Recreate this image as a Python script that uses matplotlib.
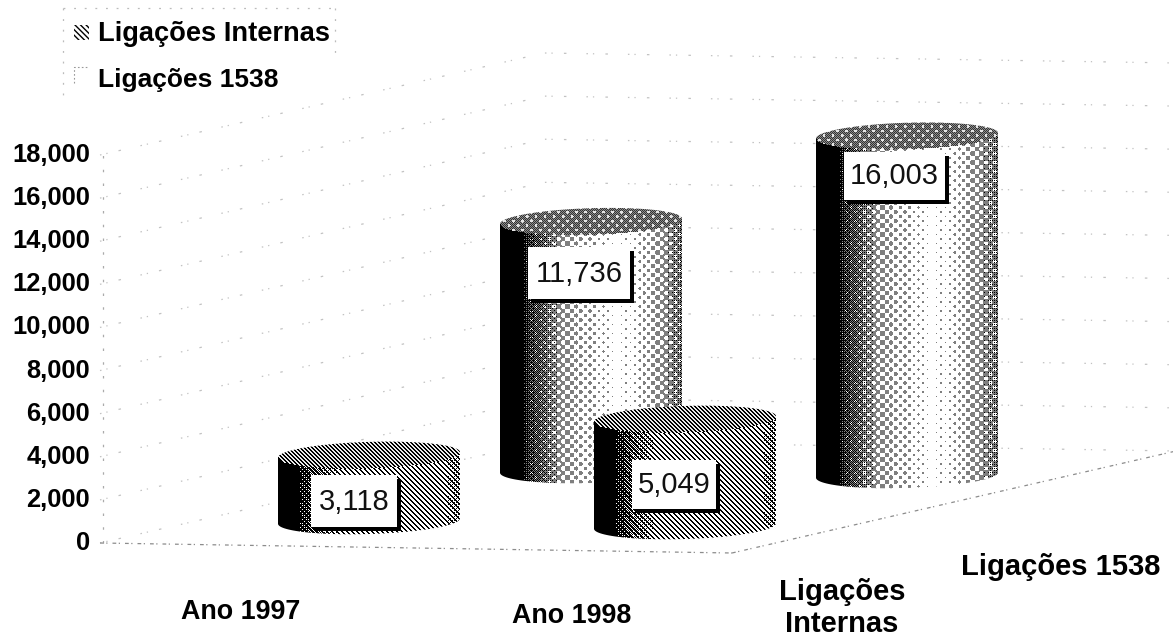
import numpy as np
import matplotlib
matplotlib.use("Agg")
import matplotlib.pyplot as plt
from matplotlib.path import Path
from matplotlib.patches import PathPatch, Rectangle

categories = ["Ano 1997", "Ano 1998"]
series_names = ["Ligações Internas", "Ligações 1538"]
internas = [3118, 5049]
l1538 = [11736, 16003]
tick_values = [0, 2000, 4000, 6000, 8000, 10000, 12000, 14000, 16000, 18000]

plt.rcParams["font.family"] = ["Liberation Sans", "DejaVu Sans"]
plt.rcParams["hatch.linewidth"] = 1.0
W, H = 1173, 637
fig = plt.figure(figsize=(W / 100, H / 100), dpi=100, facecolor="white")
ax = fig.add_axes([0, 0, 1, 1])
ax.axis("off")

# projection of the pseudo-3D chart
ORIGIN = np.array([100.0, 543.0])
CAT = np.array([316.0, 5.0])
DEPTH = np.array([222.0, -51.0])
BASE = np.array([369.0, 521.0])
WALL_SCALE = 388 / 18000
BAR_SCALE = 0.0212
RX, RY = 91, 13
TILT = -0.03
BAYER = np.array([[0, 8, 2, 10], [12, 4, 14, 6], [3, 11, 1, 9], [15, 7, 13, 5]]) / 16.0


def proj(cat, ser):
    return BASE + CAT * cat + DEPTH * ser


# walls and floor
front_r = ORIGIN + 2 * CAT
back_l = ORIGIN + 2 * DEPTH
back_r = back_l + 2 * CAT
grid = dict(color="#c2c2c2", lw=0.9, ls=(0, (1.2, 4, 1, 9, 2, 16)), zorder=1)
for v in tick_values:
    dy = np.array([0, -v * WALL_SCALE])
    pts = np.array([ORIGIN + dy, back_l + dy, back_r + dy])
    ax.plot(pts[:, 0], pts[:, 1], **grid)
    ax.text(90, ORIGIN[1] + dy[1], f"{v:,}", ha="right", va="center",
            fontsize=18.4, fontweight="bold", color="black", zorder=6)
ax.plot([103, 103], [ORIGIN[1], 150], color="#aaaaaa", lw=0.9, ls=(0, (2, 9)), zorder=1)
for a, b in [(ORIGIN, front_r), (front_r, front_r + 2 * DEPTH)]:
    ax.plot([a[0], b[0]], [a[1], b[1]], color="#8c8c8c", lw=0.9,
            ls=(0, (3, 2, 1, 4)), zorder=1)


def shade(kind, x, y, s, top):
    """Return an RGB image for a cylinder, halftoned from a horizontal light ramp."""
    v = np.interp(s, [0, .10, .16, .3, .5, .62, .72, .86, 1],
                  [0, .0, .15, .38, .72, .95, .92, .5, .3])
    bayer = BAYER[y % 4, x % 4]
    dark = np.clip((.42 - v) / .42, 0, 1)
    if kind == 1:
        u = (x + y) / 9.0
        w = (x - y) / 9.0
        thr = (np.cos(2 * np.pi * u) + np.cos(2 * np.pi * w)) / 4 + .5
        val = np.where(v > thr, 1.0, 0.5)
        val = np.where(bayer < dark, 0.0, val)
        tv = np.where((x + y) % 2 == 0, 0.2, 0.55)
        tv = np.where(thr < .25, 0.9, tv)
        val = np.where(top, tv, val)
    else:
        stripe = (x - y) % 5 < 2
        val = np.where(stripe, 0.0, 1.0)
        val = np.where(bayer < dark, 0.0, val)
        top_stripe = (x - y) % 4 < 2
        val = np.where(top, np.where(top_stripe, 0.0, 0.92), val)
    return np.repeat(val[..., None], 3, axis=2)


def ellipse_xy(cx, cy, t):
    ex = cx + RX * np.cos(t)
    ey = cy + RY * np.sin(t) + TILT * (ex - cx)
    return ex, ey


def cylinder(cat, ser, value, z):
    cx, cb = proj(cat, ser)
    ct = cb - value * BAR_SCALE
    t_low = np.linspace(0, np.pi, 60)          # bottom front
    t_up = np.linspace(np.pi, 2 * np.pi, 60)   # top back
    bx, by = ellipse_xy(cx, cb, t_low)
    tx, ty = ellipse_xy(cx, ct, t_up)
    verts = np.column_stack([np.r_[bx, tx], np.r_[by, ty]])
    verts = np.vstack([verts, verts[0]])
    codes = [Path.MOVETO] + [Path.LINETO] * (len(verts) - 2) + [Path.CLOSEPOLY]
    clip = PathPatch(Path(verts, codes), transform=ax.transData, fc="none", ec="none")
    ax.add_patch(clip)
    x0, x1 = int(cx - RX - 3), int(cx + RX + 3)
    y0, y1 = int(ct - RY - 6), int(cb + RY + 6)
    x, y = np.meshgrid(np.arange(x0, x1), np.arange(y0, y1))
    s = np.clip((x - (cx - RX)) / (2 * RX), 0, 1)
    ex = (x - cx) / RX
    front = ct + RY * np.sqrt(np.clip(1 - ex ** 2, 0, 1)) + TILT * (x - cx)
    top = y < front
    im = ax.imshow(shade(ser, x, y, s, top),
                   extent=(x0, x1, y1, y0), origin="upper",
                   interpolation="nearest", aspect="auto", zorder=z)
    im.set_clip_path(clip)


def label(x0, y0, x1, y1, value, z):
    ax.add_patch(Rectangle((x0 + 3, y0 + 4), x1 - x0 + 1, y1 - y0, fc="black", ec="none", zorder=z))
    ax.add_patch(Rectangle((x0, y0), x1 - x0, y1 - y0, fc="white", ec="none", zorder=z + .1))
    ax.text((x0 + x1) / 2, (y0 + y1) / 2 + .5, f"{value:,}", ha="center", va="center",
            fontsize=21, color="#111111", zorder=z + .2)


cylinder(1, 1, l1538[1], 3)
cylinder(0, 1, l1538[0], 2)
label(528, 247, 630, 299, l1538[0], 2.5)
label(844, 152, 945, 200, l1538[1], 3.5)
cylinder(0, 0, internas[0], 4)
label(311, 475, 397, 527, internas[0], 4.5)
cylinder(1, 0, internas[1], 5)
label(632, 460, 716, 509, internas[1], 5.5)

# legend
for xs, ys in [([63, 63], [8, 95]), ([63, 335], [8, 8]), ([335, 335], [8, 55])]:
    ax.plot(xs, ys, color="#bbbbbb", lw=0.9, ls=(0, (1.5, 7)), zorder=1)
ax.add_patch(Rectangle((74, 25), 15, 15, fc="white", ec="black", lw=0, hatch="\\\\\\\\\\\\", zorder=6))
ax.plot([74, 74, 88], [83, 67, 67], color="#999999", lw=0.8, ls=(0, (1.5, 2)), zorder=6)
ax.text(98, 34, series_names[0], fontsize=19.6, fontweight="bold", va="center", ha="left", zorder=6)
ax.text(98, 80, series_names[1], fontsize=19, fontweight="bold", va="center", ha="left", zorder=6)

# category and series axis labels
ax.text(241, 612, categories[0], fontsize=19.4, fontweight="bold", ha="center", va="center")
ax.text(572, 616, categories[1], fontsize=19.4, fontweight="bold", ha="center", va="center")
ax.text(842, 608, "Ligações\nInternas", fontsize=21, fontweight="bold", ha="center",
        va="center", linespacing=1.2)
ax.text(1061, 567, series_names[1], fontsize=21, fontweight="bold", ha="center", va="center")

ax.set_xlim(0, W)
ax.set_ylim(H, 0)
ax.set_aspect("auto")
fig.savefig("out.png", dpi=100, facecolor="white")
